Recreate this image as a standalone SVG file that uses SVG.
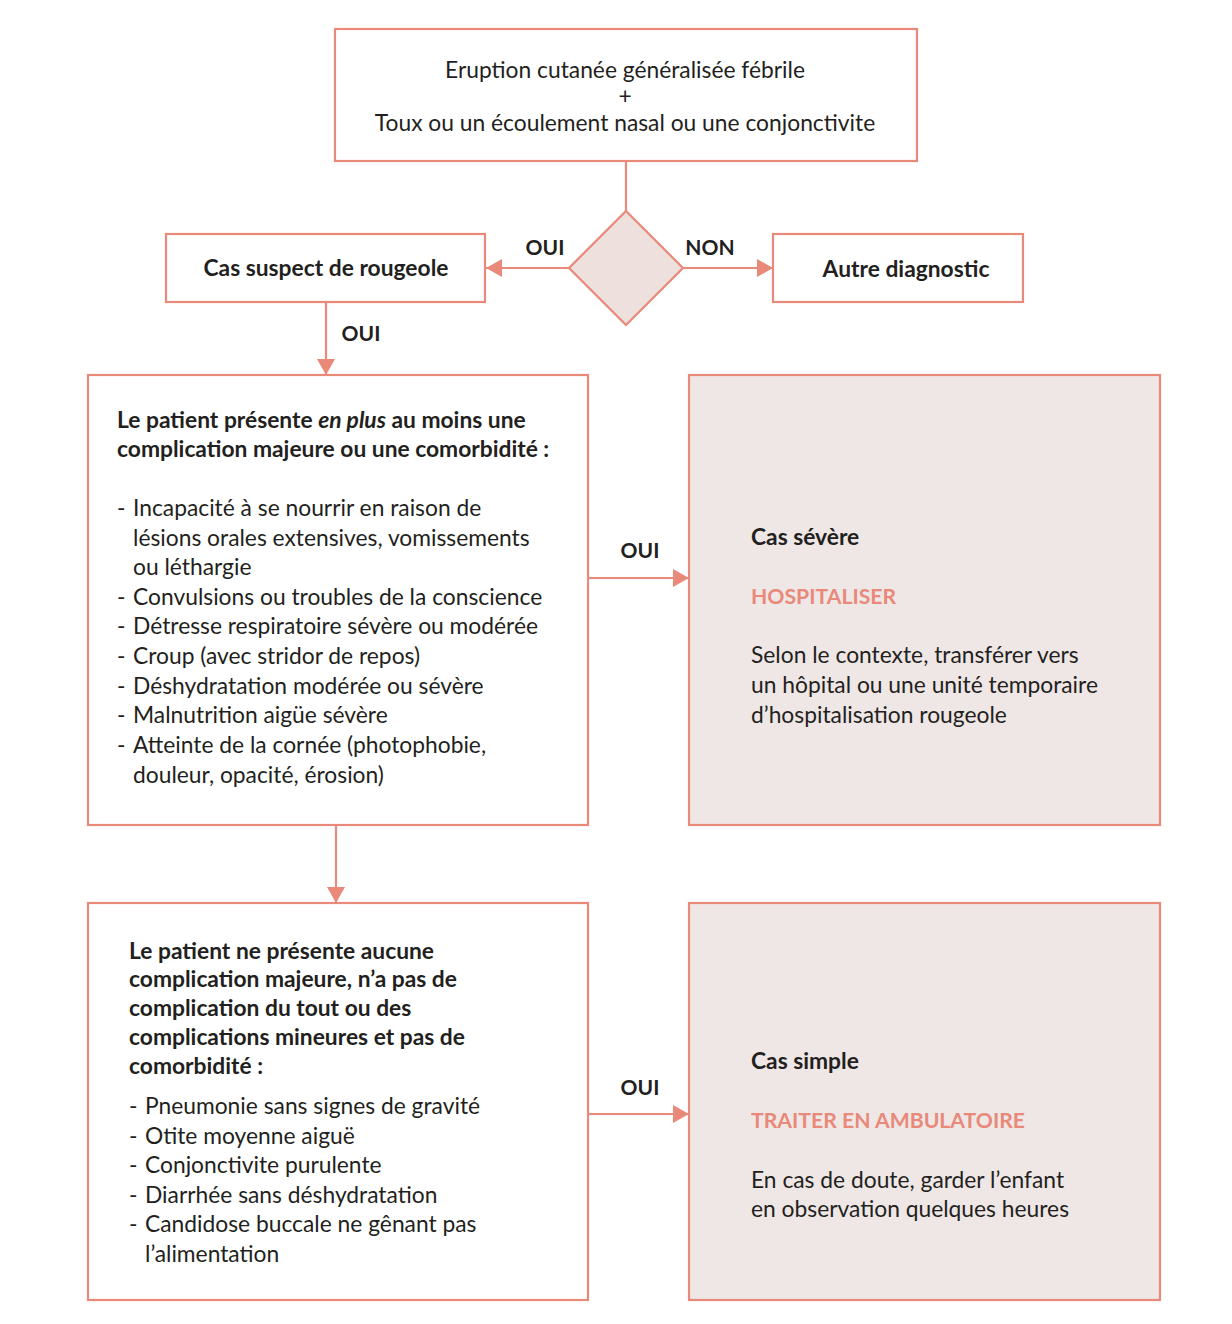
<svg xmlns="http://www.w3.org/2000/svg" width="1232" height="1324" viewBox="0 0 1232 1324">
<defs>
<style>
text{font-family:Lato,"Noto Sans","Liberation Sans",sans-serif;font-size:22.8px;fill:#231f20}
.b{font-weight:bold}
.c{text-anchor:middle}
.lbl{font-weight:bold;font-size:21px}
.red{fill:#e8897a;font-weight:bold;font-size:21.2px}
.box{fill:#fff;stroke:#e8897a;stroke-width:2.2}
.pink{fill:#efe7e6;stroke:#e8897a;stroke-width:2.2}
.dia{fill:#ede0dd;stroke:#e8897a;stroke-width:2.2}
.ln{fill:none;stroke:#e8897a;stroke-width:2.2}
</style>
<marker id="ah" markerUnits="userSpaceOnUse" markerWidth="16" markerHeight="18" refX="16" refY="9" orient="auto">
<path d="M0,0 L16,9 L0,18 Z" fill="#e8897a"/>
</marker>
</defs>
<rect width="1232" height="1324" fill="#fff"/>

<g id="connectors">
<line class="ln" x1="626" y1="161" x2="626" y2="211"/>
<line class="ln" x1="569" y1="268" x2="486" y2="268" marker-end="url(#ah)"/>
<line class="ln" x1="683" y1="268" x2="773" y2="268" marker-end="url(#ah)"/>
<line class="ln" x1="326" y1="302" x2="326" y2="375" marker-end="url(#ah)"/>
<line class="ln" x1="588" y1="578" x2="689" y2="578" marker-end="url(#ah)"/>
<line class="ln" x1="336" y1="825" x2="336" y2="903" marker-end="url(#ah)"/>
<line class="ln" x1="588" y1="1114" x2="689" y2="1114" marker-end="url(#ah)"/>
<text class="lbl c" x="545" y="255">OUI</text>
<text class="lbl c" x="710" y="255">NON</text>
<text class="lbl c" x="361" y="341">OUI</text>
<text class="lbl c" x="640" y="558">OUI</text>
<text class="lbl c" x="640" y="1095">OUI</text>
</g>

<g id="start">
<rect class="box" x="335" y="29" width="582" height="132"/>
<text class="c" x="625" y="78">Eruption cutanée généralisée fébrile</text>
<text class="c" x="625" y="104">+</text>
<text class="c" x="625" y="131">Toux ou un écoulement nasal ou une conjonctivite</text>
</g>

<g id="decision">
<polygon class="dia" points="626,211 683,268 626,325 569,268"/>
</g>

<g id="suspect">
<rect class="box" x="166" y="234" width="319" height="68"/>
<text class="b c" x="326" y="276">Cas suspect de rougeole</text>
</g>

<g id="autre">
<rect class="box" x="773" y="234" width="250" height="68"/>
<text class="b c" x="906" y="277">Autre diagnostic</text>
</g>

<g id="complications">
<rect class="box" x="88" y="375" width="500" height="450"/>
<text class="b" x="117" y="428">Le patient présente <tspan font-style="italic">en plus</tspan> au moins une</text>
<text class="b" x="117" y="457">complication majeure ou une comorbidité :</text>
<text x="117" y="516">-</text><text x="133" y="516">Incapacité à se nourrir en raison de</text>
<text x="133" y="546">lésions orales extensives, vomissements</text>
<text x="133" y="575">ou léthargie</text>
<text x="117" y="605">-</text><text x="133" y="605">Convulsions ou troubles de la conscience</text>
<text x="117" y="634">-</text><text x="133" y="634">Détresse respiratoire sévère ou modérée</text>
<text x="117" y="664">-</text><text x="133" y="664">Croup (avec stridor de repos)</text>
<text x="117" y="694">-</text><text x="133" y="694">Déshydratation modérée ou sévère</text>
<text x="117" y="723">-</text><text x="133" y="723">Malnutrition aigüe sévère</text>
<text x="117" y="753">-</text><text x="133" y="753">Atteinte de la cornée (photophobie,</text>
<text x="133" y="783">douleur, opacité, érosion)</text>
</g>

<g id="severe">
<rect class="pink" x="689" y="375" width="471" height="450"/>
<text class="b" x="751" y="545">Cas sévère</text>
<text class="red" x="751" y="604">HOSPITALISER</text>
<text x="751" y="663">Selon le contexte, transférer vers</text>
<text x="751" y="693">un hôpital ou une unité temporaire</text>
<text x="751" y="723">d’hospitalisation rougeole</text>
</g>

<g id="sans-complication">
<rect class="box" x="88" y="903" width="500" height="397"/>
<text class="b" x="129" y="959">Le patient ne présente aucune</text>
<text class="b" x="129" y="987">complication majeure, n’a pas de</text>
<text class="b" x="129" y="1016">complication du tout ou des</text>
<text class="b" x="129" y="1045">complications mineures et pas de</text>
<text class="b" x="129" y="1074">comorbidité :</text>
<text x="129" y="1114">-</text><text x="145" y="1114">Pneumonie sans signes de gravité</text>
<text x="129" y="1144">-</text><text x="145" y="1144">Otite moyenne aiguë</text>
<text x="129" y="1173">-</text><text x="145" y="1173">Conjonctivite purulente</text>
<text x="129" y="1203">-</text><text x="145" y="1203">Diarrhée sans déshydratation</text>
<text x="129" y="1232">-</text><text x="145" y="1232">Candidose buccale ne gênant pas</text>
<text x="145" y="1262">l’alimentation</text>
</g>

<g id="simple">
<rect class="pink" x="689" y="903" width="471" height="397"/>
<text class="b" x="751" y="1069">Cas simple</text>
<text class="red" x="751" y="1128">TRAITER EN AMBULATOIRE</text>
<text x="751" y="1188">En cas de doute, garder l’enfant</text>
<text x="751" y="1217">en observation quelques heures</text>
</g>
</svg>
